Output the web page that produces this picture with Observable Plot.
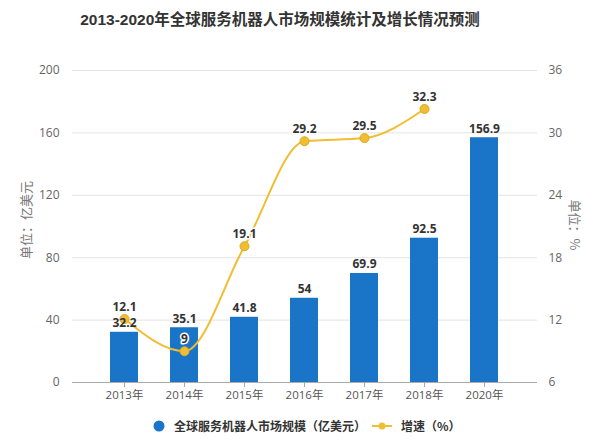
<!DOCTYPE html>
<html><head><meta charset="utf-8">
<script src="https://cdn.jsdelivr.net/npm/d3@7"></script>
<script src="https://cdn.jsdelivr.net/npm/@observablehq/plot@0.6"></script>
<style>
body{margin:0;background:#fff;font-family:"Noto Sans CJK SC","Noto Sans",sans-serif;}
#title{height:40px;line-height:40px;text-align:center;font-size:15.5px;font-weight:bold;color:#333;padding-right:40px;font-family:"Liberation Sans","Noto Sans CJK SC",sans-serif;}
#legend{height:38px;position:relative;font-size:12px;color:#333;}
.li{position:absolute;top:12px;display:flex;align-items:center;}
</style></head>
<body>
<div id="title">2013-2020年全球服务机器人市场规模统计及增长情况预测</div>
<div id="chart"></div>
<div id="legend">
 <div class="li" style="left:153px"><svg width="12" height="12"><circle cx="6" cy="6" r="5.5" fill="#1a75c9"/></svg><span style="margin-left:9px;font-weight:bold;">全球服务机器人市场规模（亿美元）</span></div>
 <div class="li" style="left:372px"><svg width="20" height="12"><line x1="0" y1="6" x2="20" y2="6" stroke="#f0be32" stroke-width="2"/><circle cx="10" cy="6" r="3.5" fill="#f0be32"/></svg><span style="margin-left:9px;font-weight:bold;">增速（%）</span></div>
</div>
<script>
const years = ["2013年","2014年","2015年","2016年","2017年","2018年","2020年"];
const market = [32.2, 35.1, 41.8, 54, 69.9, 92.5, 156.9];
const growthYears = ["2013年","2014年","2015年","2016年","2017年","2018年"];
const growth = [12.1, 9, 19.1, 29.2, 29.5, 32.3];
const leftTicks = [0, 40, 80, 120, 160, 200];
const rightTicks = [6, 12, 18, 24, 30, 36];

const toLeft = v => (v - 6) / 30 * 200;
const bars = years.map((y, i) => ({year: y, value: market[i]}));
const line = growthYears.map((y, i) => ({year: y, g: growth[i], y: toLeft(growth[i])}));

const blue = "#1a75c9", gold = "#f0be32";
const font = "'Open Sans','Noto Sans CJK SC',sans-serif";

const chart = Plot.plot({
  width: 600, height: 365,
  marginTop: 30, marginBottom: 23, marginLeft: 72, marginRight: 63,
  style: {fontFamily: font, fontSize: "12px", color: "#666", background: "#fff"},
  x: {domain: years, padding: 0.53, insetLeft: 6, insetRight: 7, label: null},
  y: {domain: [0, 200], label: null},
  marks: [
    Plot.ruleY(leftTicks.slice(1), {stroke: "#e3e3e3"}),
    Plot.barY(bars, {x: "year", y: "value", fill: blue}),
    Plot.ruleY([0], {stroke: "#aaa"}),
    Plot.axisX({tickSize: 5, tickPadding: 3, stroke: "#aaa", fontSize: 11.5, fill: "#555"}),
    Plot.axisY(leftTicks, {anchor: "left", tickSize: 0, tickPadding: 13, fontSize: 12, fill: "#666", label: null}),
    Plot.axisY(rightTicks.map(toLeft), {anchor: "right", tickSize: 0, tickPadding: 11, fontSize: 12, fill: "#666", tickFormat: d => Math.round(6 + d * 30 / 200), label: null}),
    Plot.line(line, {x: "year", y: "y", stroke: gold, strokeWidth: 2, curve: "monotone-x"}),
    Plot.dot(line, {x: "year", y: "y", r: 4.5, fill: gold, stroke: "#e0a820", strokeWidth: 1}),
    Plot.text(bars, {x: "year", y: "value", text: d => String(d.value), dy: -9, fontWeight: "bold", fill: "#333", fontSize: 12}),
    Plot.text(line, {x: "year", y: "y", text: d => String(d.g), dy: -12, fontWeight: "bold", fill: "#333", fontSize: 12, stroke: "white", strokeWidth: 3})
  ]
});

const svg = d3.select(chart.tagName === "svg" ? chart : chart.querySelector("svg"));
svg.append("text").attr("transform", "translate(31,180) rotate(-90)").attr("text-anchor", "middle")
  .attr("fill", "#777").style("font-family", "'Noto Sans CJK SC',sans-serif").style("font-size", "13px").text("单位：亿美元");
svg.append("text").attr("transform", "translate(570,185) rotate(90)").attr("text-anchor", "middle")
  .attr("fill", "#777").style("font-family", "'Noto Sans CJK SC',sans-serif").style("font-size", "13px").text("单位：%");

document.getElementById("chart").appendChild(chart);
</script>
</body></html>
